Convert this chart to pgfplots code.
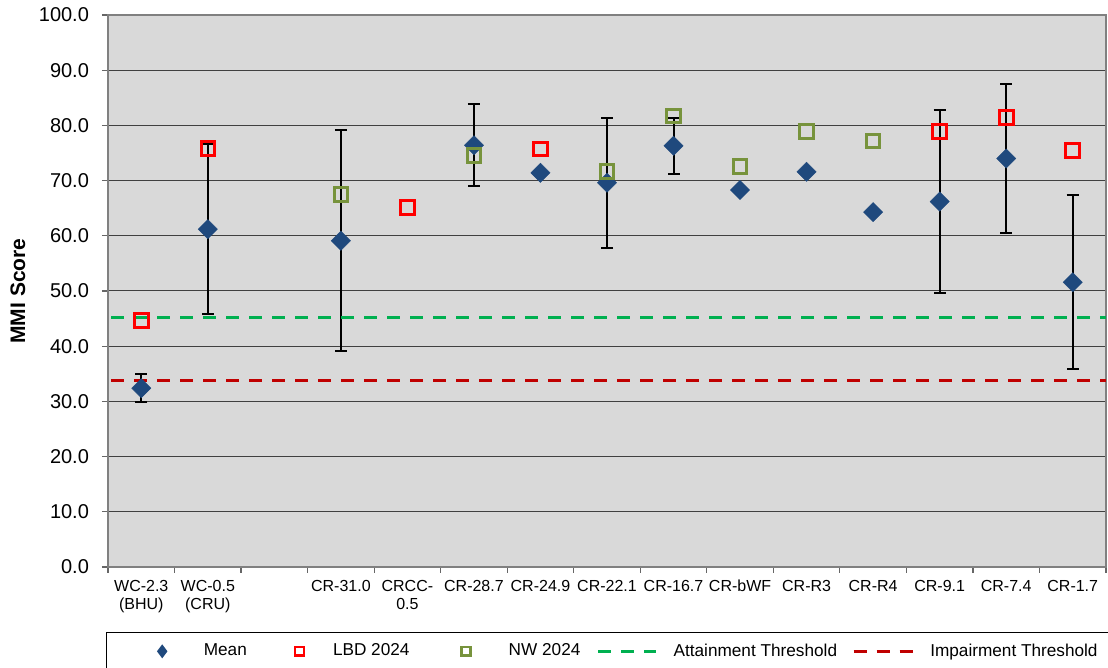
\documentclass[border=0pt]{standalone}
\usepackage{fontspec}
\setmainfont{Liberation Sans}
\usepackage{pgfplots}
\usepackage{pgfplotstable}
\pgfplotsset{compat=1.18}

\definecolor{plotbg}{HTML}{D9D9D9}
\definecolor{meanblue}{HTML}{1F497D}
\definecolor{lbdred}{HTML}{FF0000}
\definecolor{nwgreen}{HTML}{77933C}
\definecolor{attgreen}{HTML}{00B050}
\definecolor{impred}{HTML}{C00000}

% site index, mean MMI score, +/- range
\pgfplotstableread{
x  mean  err
0  32.4  2.6
1  61.2  15.4
3  59.1  20.0
5  76.4  7.4
6  71.4  0
7  69.6  11.8
8  76.3  5.1
9  68.3  0
10 71.6  0
11 64.3  0
12 66.2  16.5
13 74.0  13.5
14 51.6  15.8
}\meantable

% sites with a spread around the mean
\pgfplotstableread{
x  mean  err
0  32.4  2.6
1  61.2  15.4
3  59.1  20.0
5  76.4  7.4
7  69.6  11.8
8  76.3  5.1
12 66.2  16.5
13 74.0  13.5
14 51.6  15.8
}\errtable

% LBD 2024 scores
\pgfplotstableread{
x  y
0  44.7
1  75.8
4  65.1
6  75.7
12 78.9
13 81.4
14 75.5
}\lbdtable

% NW 2024 scores
\pgfplotstableread{
x  y
3  67.5
5  74.6
7  71.7
8  81.7
9  72.6
10 78.9
11 77.2
}\nwtable

\begin{document}
\begin{tikzpicture}
\path[use as bounding box] (-54pt,-50.5pt) rectangle (500pt,283.5pt);
\begin{axis}[
  at={(0,0)}, anchor=south west,
  scale only axis,
  width=499pt, height=276pt,
  xmin=-0.5, xmax=14.5,
  ymin=0, ymax=100,
  axis background/.style={fill=plotbg},
  axis line style={draw=black!50, line width=0.8pt},
  ytick={0,10,...,100},
  ymajorgrids,
  major grid style={draw=black!75, line width=0.5pt},
  tick align=outside,
  major tick length=3pt,
  minor tick length=3pt,
  ytick pos=left,
  xtick pos=bottom,
  tick style={draw=black!60, line width=0.6pt},
  xtick={0,...,14},
  major x tick style={draw=none},
  minor xtick={-0.5,0.5,...,14.5},
  xticklabels={{WC-2.3\\(BHU)},{WC-0.5\\(CRU)},{},CR-31.0,{CRCC-\\0.5},CR-28.7,CR-24.9,CR-22.1,CR-16.7,CR-bWF,CR-R3,CR-R4,CR-9.1,CR-7.4,CR-1.7},
  xticklabel style={align=center, font=\fontsize{8}{9}\selectfont},
  yticklabel style={font=\fontsize{10}{12}\selectfont, xshift=-3pt},
  /pgf/number format/assume math mode=true,
  yticklabel={\pgfmathprintnumber[fixed,fixed zerofill,precision=1]{\tick}},
  ylabel={\textbf{MMI Score}},
  every axis y label/.style={at={(axis description cs:-0.0902,0.5)}, anchor=center, rotate=90,
    font=\fontsize{10.5}{12}\selectfont},
  legend columns=5,
  legend style={
    at={(axis description cs:0,0)}, anchor=north west,
    xshift=-1pt, yshift=-32.5pt,
    draw=black, fill=white, line width=0.6pt,
    font=\fontsize{8.6}{10}\selectfont,
    inner xsep=4pt, inner ysep=3.5pt,
    /tikz/every even column/.append style={column sep=0pt},
  },
  legend cell align=left,
]
% error bars
\addplot[forget plot, draw=none, mark=none,
  error bars/.cd, y dir=both, y explicit,
  error bar style={black, line width=1pt},
  error mark options={black, line width=1pt, rotate=90, mark size=3pt}]
  table[x=x, y=mean, y error=err] {\errtable};
% threshold lines
\addplot[forget plot, attgreen, line width=1.5pt, dash pattern=on 6.5pt off 5pt]
  coordinates {(-0.45,45.2) (14.5,45.2)};
\addplot[forget plot, impred, line width=1.5pt, dash pattern=on 6.5pt off 5pt]
  coordinates {(-0.45,33.8) (14.5,33.8)};
% mean
\addplot[only marks, mark=square*, mark size=3.4pt,
  mark options={rotate=45, fill=meanblue, draw=meanblue, line width=0.2pt},
  legend image code/.code={\path (0pt,0pt) (42pt,0pt);
    \draw[mark=diamond*, mark size=3pt, mark options={fill=meanblue, draw=meanblue}] plot coordinates {(23.5pt,0pt)};}]
  table[x=x, y=mean] {\meantable};
\addlegendentry{Mean}
% LBD 2024
\addplot[only marks, mark=square, mark size=3.4pt,
  mark options={draw=lbdred, line width=1.5pt},
  legend image code/.code={\path (0pt,0pt) (38.5pt,0pt);
    \draw[mark=square, mark size=2.2pt, mark options={draw=lbdred, line width=1.3pt}] plot coordinates {(24pt,0pt)};}]
  table[x=x, y=y] {\lbdtable};
\addlegendentry{LBD 2024}
% NW 2024
\addplot[only marks, mark=square, mark size=3.4pt,
  mark options={draw=nwgreen, line width=1.5pt},
  legend image code/.code={\path (0pt,0pt) (45pt,0pt);
    \draw[mark=square, mark size=2.2pt, mark options={draw=nwgreen, line width=1.3pt}] plot coordinates {(26pt,0pt)};}]
  table[x=x, y=y] {\nwtable};
\addlegendentry{NW 2024}
% legend-only entries for the thresholds
\addlegendimage{legend image code/.code={\path (0pt,0pt) (42pt,0pt);
  \draw[attgreen, line width=1.5pt, dash pattern=on 6.5pt off 5pt] (6.5pt,0pt) -- (35.5pt,0pt);}}
\addlegendentry{Attainment Threshold}
\addlegendimage{legend image code/.code={\path (0pt,0pt) (42pt,0pt);
  \draw[impred, line width=1.5pt, dash pattern=on 6.5pt off 5pt] (6pt,0pt) -- (36pt,0pt);}}
\addlegendentry{Impairment Threshold\hspace{8pt}}
\end{axis}
\end{tikzpicture}
\end{document}
